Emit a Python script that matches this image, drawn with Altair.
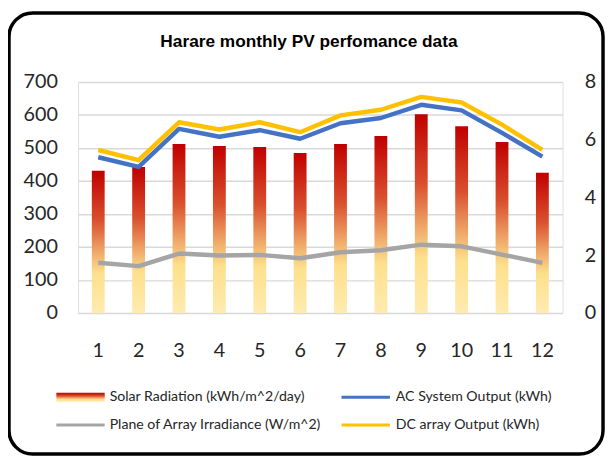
import altair as alt
import pandas as pd

months = [1, 2, 3, 4, 5, 6, 7, 8, 9, 10, 11, 12]
solar_radiation = [4.93, 5.06, 5.85, 5.78, 5.75, 5.54, 5.85, 6.13, 6.88, 6.47, 5.92, 4.86]
ac_output = [472, 443, 558, 534, 554, 528, 575, 591, 631, 614, 546, 474]
dc_output = [494, 463, 578, 556, 578, 548, 599, 616, 655, 638, 571, 494]
poa_irradiance = [152, 142, 180, 174, 176, 166, 184, 190, 207, 202, 177, 152]

series_names = ["Plane of Array Irradiance (W/m^2)", "AC System Output (kWh)", "DC array Output (kWh)"]
series_colors = ["#A5A5A5", "#4472C4", "#FFC000"]
solar_name = "Solar Radiation (kWh/m^2/day)"
title_text = "Harare monthly PV perfomance data"

FONT = "Lato"
W, H = 491, 234

bars_df = pd.DataFrame({"month": months, "solar": solar_radiation})
lines_df = pd.DataFrame({
    "month": months * 3,
    "value": poa_irradiance + ac_output + dc_output,
    "series": [series_names[0]] * 12 + [series_names[1]] * 12 + [series_names[2]] * 12,
})

grad = {
    "gradient": "linear", "x1": 0, "y1": 0, "x2": 0, "y2": 1,
    "stops": [
        {"offset": 0.0, "color": "#C00000"},
        {"offset": 0.35, "color": "#D9502E"},
        {"offset": 0.55, "color": "#EDA064"},
        {"offset": 0.72, "color": "#FDE08C"},
        {"offset": 1.0, "color": "#FFEBB0"},
    ],
}

xenc = alt.X("month:O", scale=alt.Scale(paddingInner=0, paddingOuter=0),
             axis=alt.Axis(title=None, labelAngle=0, labelFontSize=20, labelPadding=28,
                           ticks=False, domain=False, labelColor="#262626", labelFont=FONT))

bars = alt.Chart(bars_df).mark_bar(size=13, color=grad).encode(
    x=xenc,
    y=alt.Y("solar:Q", scale=alt.Scale(domain=[0, 8], nice=False),
            axis=alt.Axis(orient="right", title=None, values=[0, 2, 4, 6, 8], grid=False,
                          ticks=False, domain=False, labelFontSize=20, labelPadding=22,
                          labelColor="#262626", labelFont=FONT)),
)

lines = alt.Chart(lines_df).mark_line(strokeWidth=4.5, strokeJoin="round").encode(
    x=xenc,
    y=alt.Y("value:Q", scale=alt.Scale(domain=[0, 700], nice=False),
            axis=alt.Axis(orient="left", title=None, values=list(range(0, 701, 100)), grid=True,
                          gridColor="#D9D9D9", gridWidth=1.5, ticks=False, domain=False,
                          labelFontSize=20, labelPadding=21, labelColor="#262626", labelFont=FONT)),
    color=alt.Color("series:N", scale=alt.Scale(domain=series_names, range=series_colors), legend=None),
)

one = pd.DataFrame({"a": [0]})

border = alt.Chart(one).mark_rect(fillOpacity=0, stroke="black", strokeWidth=3.5, cornerRadius=24).encode(
    x=alt.value(-70), x2=alt.value(532), y=alt.value(-70), y2=alt.value(377))

title = alt.Chart(one).mark_text(text=title_text, font="Liberation Sans", fontWeight="bold",
                                 fontSize=17.5, color="black", align="center", baseline="middle").encode(
    x=alt.value(234), y=alt.value(-41))

legend_layers = []
legend_layers.append(alt.Chart(one).mark_rect(color=grad).encode(
    x=alt.value(-22), x2=alt.value(27), y=alt.value(315), y2=alt.value(324)))

def line_swatch(x0, y0, color):
    return alt.Chart(one).mark_rule(color=color, strokeWidth=3).encode(
        x=alt.value(x0), x2=alt.value(x0 + 49), y=alt.value(y0))

def legend_text(x0, y0, txt):
    return alt.Chart(one).mark_text(text=txt, font=FONT, fontSize=14.3, color="#262626",
                                    align="left", baseline="middle").encode(
        x=alt.value(x0), y=alt.value(y0))

legend_layers.append(legend_text(32, 319.5, solar_name))
legend_layers.append(line_swatch(267, 319.5, series_colors[1]))
legend_layers.append(legend_text(322, 319.5, series_names[1]))
legend_layers.append(line_swatch(-22, 347.5, series_colors[0]))
legend_layers.append(legend_text(32, 347.5, series_names[0]))
legend_layers.append(line_swatch(267, 347.5, series_colors[2]))
legend_layers.append(legend_text(322, 347.5, series_names[2]))

chart = alt.layer(bars, lines, border, title, *legend_layers).resolve_scale(
    y="independent"
).properties(
    width=W, height=H,
    autosize=alt.AutoSizeParams(type="none"),
    padding={"left": 71, "top": 72, "right": 43, "bottom": 146},
).configure_view(stroke=None).configure(background="white")

chart.save("out.html", embed_options={"renderer": "svg", "actions": False})
